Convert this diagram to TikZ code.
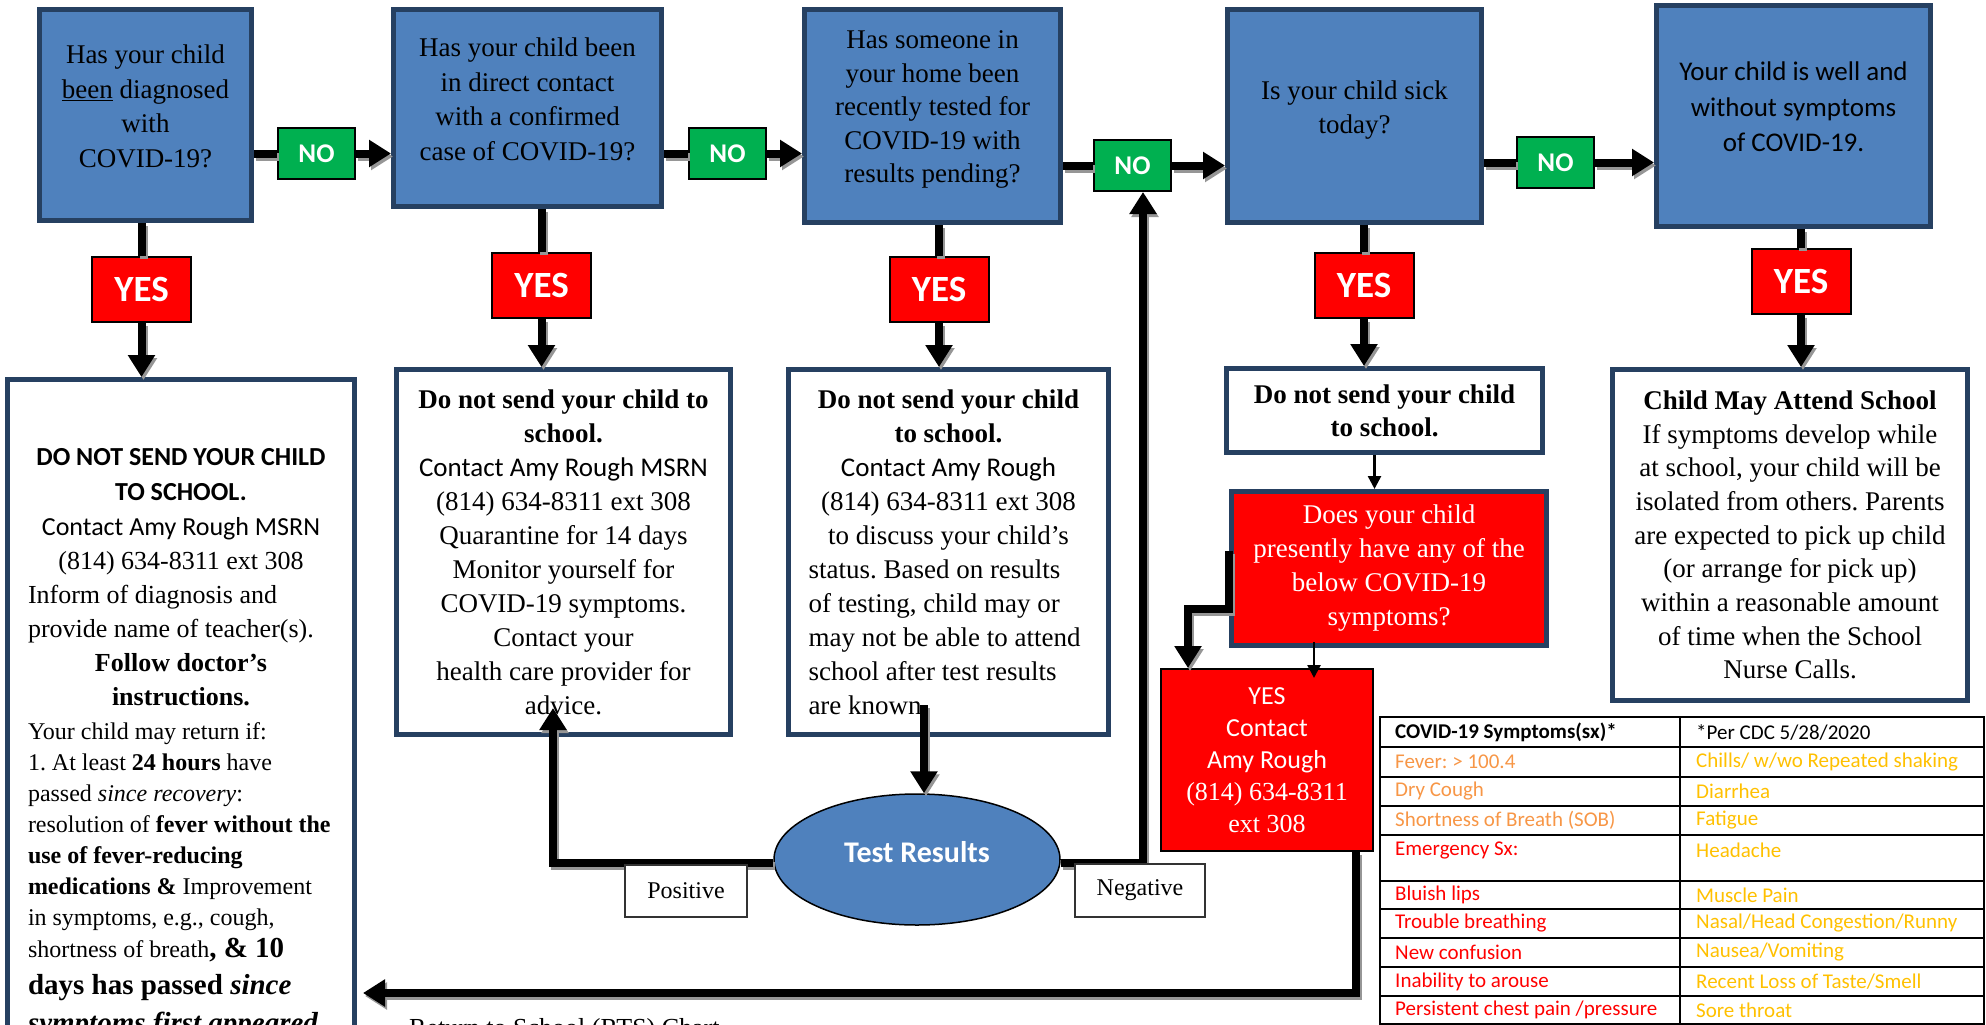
\documentclass[tikz,border=0pt]{standalone}
\usepackage{fontspec}
\setmainfont{Liberation Serif}
\newfontfamily\calib{Carlito}
\usepackage{tikz}
\usetikzlibrary{arrows.meta,shapes,positioning}
\definecolor{qblue}{RGB}{79,129,189}
\definecolor{qedge}{RGB}{38,64,97}
\definecolor{nogreen}{RGB}{0,176,80}
\definecolor{yesred}{RGB}{255,0,0}
\definecolor{sxorange}{RGB}{247,150,70}
\definecolor{sxgold}{RGB}{255,192,0}
\definecolor{shade}{RGB}{150,150,150}
\tikzstyle{question} = [rectangle, draw=qedge, line width=5pt, fill=qblue, align=center, text depth=18pt, font=\fontsize{27}{34.5}\selectfont]
\tikzstyle{nobox} = [rectangle, draw=black, line width=2pt, fill=nogreen, text=white, minimum width=77pt, minimum height=51pt, font=\calib\bfseries\fontsize{27}{30}\selectfont]
\tikzstyle{yesbox} = [rectangle, draw=black, line width=2pt, fill=yesred, text=white, minimum width=99pt, minimum height=65pt, font=\calib\bfseries\fontsize{37}{40}\selectfont]
\tikzstyle{action} = [rectangle, draw=qedge, line width=5pt, fill=white, font=\fontsize{27}{34}\selectfont]
\tikzstyle{result} = [rectangle, draw=black!80, line width=1.5pt, fill=white, font=\fontsize{24}{28}\selectfont]
\tikzstyle{fatline} = [line width=8pt, preaction={draw=shade, line width=8pt, transform canvas={shift={(2pt,-3pt)}}}]
\tikzstyle{fatarrow} = [fatline, -{Triangle[width=26pt,length=22pt]}]
\tikzstyle{thinarrow} = [line width=2.5pt, -{Triangle[width=13pt,length=13pt]}]
\tikzstyle{sxcell} = [anchor=west, inner sep=0pt, font=\calib\fontsize{21}{24}\selectfont]

\begin{document}
\frenchspacing
\begin{tikzpicture}[x=1pt, y=-1pt]
\useasboundingbox (0,0) rectangle (1986,1025);
\clip (0,0) rectangle (1986,1025);

% Questions
\node (diag) [question, minimum width=212pt, minimum height=211pt] at (145.5,115) {Has your child\\\underline{been} diagnosed\\with\\COVID-19?};
\node (direct) [question, minimum width=268pt, minimum height=197pt] at (527.5,108) {Has your child been\\in direct contact\\with a confirmed\\case of COVID-19?};
\node (pending) [question, minimum width=256pt, minimum height=213pt, font=\fontsize{27}{33.5}\selectfont] at (932.5,116) {Has someone in\\your home been\\recently tested for\\COVID-19 with\\results pending?};
\node (sick) [question, minimum width=254pt, minimum height=213pt] at (1354.5,116) {Is your child sick\\today?};
\node (well) [question, minimum width=274pt, minimum height=221pt, font=\calib\fontsize{27}{35.5}\selectfont] at (1793.5,116) {Your child is well and\\without symptoms\\of COVID-19.};

% NO answers
\node (nodiag) [nobox] at (316.5,153.5) {NO};
\node (nodirect) [nobox] at (727.5,153.5) {NO};
\node (nopending) [nobox] at (1132.5,165.5) {NO};
\node (nosick) [nobox] at (1555.5,162.5) {NO};

% YES answers
\node (yesdiag) [yesbox] at (141.5,289.5) {YES};
\node (yesdirect) [yesbox] at (541.5,285.5) {YES};
\node (yespending) [yesbox] at (939,289.5) {YES};
\node (yessick) [yesbox] at (1364,285.5) {YES};
\node (yeswell) [yesbox] at (1801,281) {YES};

% What to do
\node (diagact) [action, anchor=north, minimum width=347pt, inner xsep=0pt, inner ysep=69pt] at (181,377) {\begin{minipage}{306pt}
{\centering\calib\bfseries\fontsize{26}{35}\selectfont DO NOT SEND YOUR CHILD\\TO SCHOOL.\par}
{\centering\calib\fontsize{26}{35}\selectfont Contact Amy Rough MSRN\par}
{\centering\fontsize{26}{34}\selectfont (814) 634-8311 ext 308\par}
{\fontsize{26}{34}\selectfont Inform of diagnosis and\\provide name of teacher(s).\par}
{\centering\bfseries\fontsize{26}{34}\selectfont Follow doctor’s\\instructions.\par}
\vspace{3pt}
{\fontsize{24}{31}\selectfont Your child may return if:\\1. At least \textbf{24 hours} have\\passed \textit{since recovery}:\\\mbox{resolution of \textbf{fever without the}}\\\textbf{use of fever-reducing}\\\textbf{medications \&} Improvement\\in symptoms, e.g., cough,\\[1pt]shortness of breath\textbf{\fontsize{29}{31}\selectfont, \& 10}\par}
{\bfseries\fontsize{29}{37}\selectfont days has passed \textit{since}\\[1pt]\textit{symptoms first appeared}\par}
\end{minipage}};
\node (directact) [action, align=center, minimum width=334pt, minimum height=365pt] at (563.5,552) {\textbf{Do not send your child to}\\\textbf{school.}\\{\calib Contact Amy Rough MSRN}\\(814) 634-8311 ext 308\\Quarantine for 14 days\\Monitor yourself for\\COVID-19 symptoms.\\Contact your\\health care provider for\\advice.};
\node (pendingact) [action, minimum width=320pt, minimum height=365pt, inner sep=0pt] at (948.5,552) {\begin{minipage}{280pt}\fontsize{27}{34}\selectfont
{\centering\textbf{Do not send your child}\\\textbf{to school.}\\{\calib Contact Amy Rough}\\(814) 634-8311 ext 308\\to discuss your child’s\par}
status. Based on results\\of testing, child may or\\may not be able to attend\\school after test results\\are known.
\end{minipage}};
\node (sickact) [action, align=center, font=\bfseries\fontsize{27}{33}\selectfont, minimum width=316pt, minimum height=84pt] at (1384.5,410.5) {Do not send your child\\to school.};
\node (attend) [action, align=center, font=\fontsize{27}{33.7}\selectfont, minimum width=355pt, minimum height=331pt] at (1790,535) {\textbf{Child May Attend School}\\If symptoms develop while\\at school, your child will be\\isolated from others. Parents\\are expected to pick up child\\(or arrange for pick up)\\within a reasonable amount\\of time when the School\\Nurse Calls.};

% Symptom check
\node (symq) [action, fill=yesred, text=white, align=center, minimum width=315pt, minimum height=154pt] at (1389,568.5) {Does your child\\presently have any of the\\below COVID-19\\symptoms?};
\node (yescontact) [rectangle, draw=black, line width=2pt, fill=yesred, text=white, align=center, minimum width=212pt, minimum height=182pt, font=\fontsize{26}{32}\selectfont] at (1267,760) {{\calib YES}\\{\calib Contact}\\{\calib Amy Rough}\\(814) 634-8311\\ext 308};

% Test results
\node (testres) [ellipse, draw=black, line width=1.5pt, fill=qblue, text=white, text depth=16pt, minimum width=286pt, minimum height=131pt, font=\calib\bfseries\fontsize{30}{32}\selectfont] at (917,859.5) {Test Results};

% Arrows along the top
\draw[fatline] (nodiag.west -| diag.east) -- (nodiag.west);
\draw[fatarrow] (nodiag.east) -- (nodiag.east -| direct.west);
\draw[fatline] (nodirect.west -| direct.east) -- (nodirect.west);
\draw[fatarrow] (nodirect.east) -- (nodirect.east -| pending.west);
\draw[fatline] (nopending.west -| pending.east) -- (nopending.west);
\draw[fatarrow] (nopending.east) -- (nopending.east -| sick.west);
\draw[fatline] (nosick.west -| sick.east) -- (nosick.west);
\draw[fatarrow] (nosick.east) -- (nosick.east -| well.west);

% Arrows down
\draw[fatline] (diag.south -| yesdiag) -- (yesdiag.north);
\draw[fatarrow] (yesdiag.south) -- (yesdiag.south |- diagact.north);
\draw[fatline] (direct.south -| yesdirect) -- (yesdirect.north);
\draw[fatarrow] (yesdirect.south) -- (yesdirect.south |- directact.north);
\draw[fatline] (pending.south -| yespending) -- (yespending.north);
\draw[fatarrow] (yespending.south) -- (yespending.south |- pendingact.north);
\draw[fatline] (sick.south -| yessick) -- (yessick.north);
\draw[fatarrow] (yessick.south) -- (yessick.south |- sickact.north);
\draw[fatline] (well.south -| yeswell) -- (yeswell.north);
\draw[fatarrow] (yeswell.south) -- (yeswell.south |- attend.north);

% Sick today
\draw[thinarrow] ([xshift=-10pt]sickact.south) -- ([xshift=-10pt]sickact.south |- symq.north);
\draw[fatarrow] ([yshift=18pt]symq.west) -- ++(0,58) -| ([xshift=-79pt]yescontact.north);
\draw[thinarrow] ([shift={(-75pt,6pt)}]symq.south) -- ([shift={(47pt,-10pt)}]yescontact.north);

% Test loop
\coordinate (known) at ([shift={(-24.5pt,32pt)}]pendingact.south);
\draw[fatarrow] (known) -- (known |- testres.north);
\draw[fatarrow] ([yshift=-3pt]testres.west) -| ([shift={(-10.5pt,29pt)}]directact.south);
\draw[fatarrow] ([yshift=-3pt]testres.east) -| ([xshift=10.5pt]nopending.south);
\node (pos) [result, minimum width=122pt, minimum height=52pt] at (686,891) {Positive};
\node (neg) [result, minimum width=130pt, minimum height=53pt] at (1140,890.5) {Negative};

% Back to the first box
\coordinate (rts) at (363,993);
\draw[fatarrow] ([xshift=89pt]yescontact.south) |- (rts);
\node (rtslabel) [anchor=base west, inner sep=0pt, font=\fontsize{26}{30}\selectfont] at (409,1036) {Return to School (RTS) Chart};

% Symptom table
\draw[line width=1.5pt] (1380,717) rectangle (1984,1024);
\draw[line width=1.5pt] (1680,717) -- (1680,1024);
\foreach \y in {747,777,806,835,881,909,938,967,996}
  \draw[line width=1.5pt] (1380,\y) -- (1984,\y);
\node (sxhead) [sxcell, font=\calib\bfseries\fontsize{21}{24}\selectfont] at (1395,732) {COVID-19 Symptoms(sx)*};
\node (cdc) [sxcell] at (1696,732) {*Per CDC 5/28/2020};
\foreach \y/\lc/\l/\r [count=\i] in {762/sxorange/{Fever: > 100.4}/{Chills/ w/wo Repeated shaking},
    791.5/sxorange/{Dry Cough}/{Diarrhea}, 820.5/sxorange/{Shortness of Breath (SOB)}/{Fatigue},
    850/yesred/{Emergency Sx:}/{Headache}, 895/yesred/{Bluish lips}/{Muscle Pain},
    923.5/yesred/{Trouble breathing}/{Nasal/Head Congestion/Runny}, 952.5/yesred/{New confusion}/{Nausea/Vomiting},
    981.5/yesred/{Inability to arouse}/{Recent Loss of Taste/Smell}, 1010/yesred/{Persistent chest pain /pressure}/{Sore throat}}
{
  \node (sxl\i) [sxcell, text=\lc] at (1395,\y) {\l};
  \node (sxr\i) [sxcell, text=sxgold] at (1696,\y) {\r};
}
\end{tikzpicture}
\end{document}
